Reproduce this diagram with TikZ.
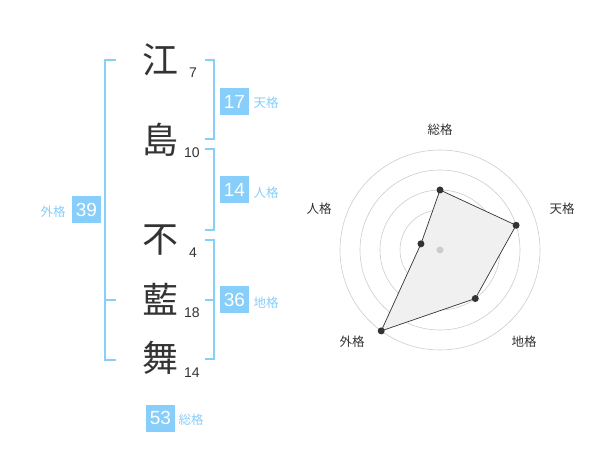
\documentclass[tikz,border=0pt]{standalone}
\usepackage{fontspec}
\newfontfamily\jp{Noto Sans CJK JP}
\newfontfamily\numf{Liberation Sans}
\definecolor{sky}{HTML}{87CEFA}
\definecolor{ink}{HTML}{333333}
\definecolor{ring}{HTML}{CCCCCC}
\definecolor{fillg}{HTML}{F0F0F0}
\begin{document}
\begin{tikzpicture}[x=1pt,y=-1pt,
  bigk/.style={font=\jp\fontsize{36}{36}\selectfont, text=ink, inner sep=0pt},
  strk/.style={font=\numf\fontsize{14}{14}\selectfont, text=ink, inner sep=0pt},
  kbox/.style={fill=sky, text=white, minimum width=29pt, minimum height=27pt, inner sep=0pt, font=\numf\fontsize{19}{19}\selectfont},
  klab/.style={font=\jp\fontsize{12.5}{12.5}\selectfont, text=sky, inner sep=0pt},
  brk/.style={draw=sky, line width=2pt},
  rlab/.style={font=\jp\fontsize{12.5}{12.5}\selectfont, text=ink, inner sep=0pt},
  rdot/.style={circle, fill=ink, inner sep=0pt, minimum size=7pt},
]
\useasboundingbox (0,0) rectangle (600,470);
% kanji
\node[bigk] (k1) at (160,60) {江};
\node[bigk] (k2) at (160,140) {島};
\node[bigk] (k3) at (160,240) {不};
\node[bigk] (k4) at (160,299) {藍};
\node[bigk] (k5) at (160,358) {舞};
% stroke counts
\node[strk] (n1) at (193,72.5) {7};
\node[strk] (n2) at (192,153) {10};
\node[strk] (n3) at (193,253) {4};
\node[strk] (n4) at (192,313) {18};
\node[strk] (n5) at (192,373) {14};
% brackets
\coordinate (oa) at (116,60);
\coordinate (ob) at (105,60);
\coordinate (oc) at (105,360);
\coordinate (od) at (116,360);
\coordinate (oe) at (105,300);
\coordinate (of) at (116,300);
\draw[brk] (oa) -- (ob) -- (oc) -- (od);
\draw[brk] (oe) -- (of);
\coordinate (ta) at (205,60);
\coordinate (tb) at (214,60);
\coordinate (tc) at (214,139);
\coordinate (td) at (205,139);
\draw[brk] (ta) -- (tb) -- (tc) -- (td);
\coordinate (ja) at (205,149);
\coordinate (jb) at (214,149);
\coordinate (jc) at (214,230);
\coordinate (jd) at (205,230);
\draw[brk] (ja) -- (jb) -- (jc) -- (jd);
\coordinate (ca) at (205,240);
\coordinate (cb) at (214,240);
\coordinate (cc) at (214,359);
\coordinate (cd) at (205,359);
\coordinate (ce) at (205,300);
\coordinate (cf) at (214,300);
\draw[brk] (ca) -- (cb) -- (cc) -- (cd);
\draw[brk] (ce) -- (cf);
% boxes and labels
\node[kbox] (b17) at (234.5,101.5) {17};
\node[klab] (l17) at (266,103) {天格};
\node[kbox] (b14) at (234.5,190) {14};
\node[klab] (l14) at (266,193) {人格};
\node[kbox] (b36) at (234.5,300) {36};
\node[klab] (l36) at (266,303) {地格};
\node[kbox] (b39) at (86.5,210) {39};
\node[klab] (l39) at (53,212) {外格};
\node[kbox] (b53) at (160.5,418) {53};
\node[klab] (l53) at (191,420) {総格};
% radar
\coordinate (C) at (440,250);
\begin{scope}[shift={(C)}, x=1pt, y=1pt]
  \foreach \r in {20,40,60,80,100} \draw[ring, line width=0.6pt] (0,0) circle (\r);
  \coordinate (pS) at (90:60);
  \coordinate (pT) at (18:80);
  \coordinate (pC) at (-54:60);
  \coordinate (pG) at (-126:100);
  \coordinate (pJ) at (162:20);
  \fill[fillg] (pS) -- (pT) -- (pC) -- (pG) -- (pJ) -- cycle;
  \draw[ink, line width=0.7pt] (pS) -- (pT) -- (pC) -- (pG) -- (pJ) -- cycle;
  \node[circle, fill=ring, inner sep=0pt, minimum size=7pt] (c0) at (0,0) {};
  \foreach \p in {pS,pT,pC,pG,pJ} \node[rdot] at (\p) {};
  \node[rlab] (rS) at (0,120) {総格};
  \node[rlab] (rT) at (122,41) {天格};
  \node[rlab] (rC) at (84,-92) {地格};
  \node[rlab] (rG) at (-88,-92) {外格};
  \node[rlab] (rJ) at (-121,41) {人格};
\end{scope}
\end{tikzpicture}
\end{document}
